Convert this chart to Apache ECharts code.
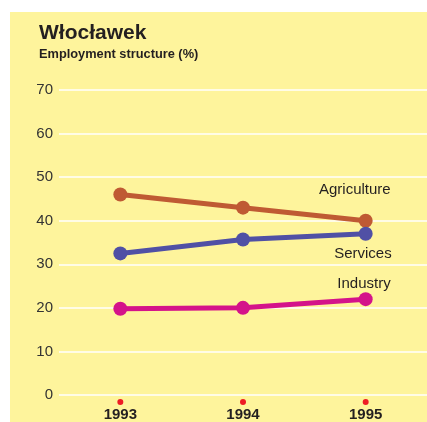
<!DOCTYPE html>
<html>
<head>
<meta charset="utf-8">
<script src="https://cdn.jsdelivr.net/npm/echarts@6/dist/echarts.min.js"></script>
<style>
  html, body { margin: 0; padding: 0; background: #ffffff; width: 427px; height: 422px; overflow: hidden; }
  #chart { position: absolute; left: 10px; top: 12px; width: 417px; height: 410px; }
</style>
</head>
<body>
<div id="chart"></div>
<script>
const years = ['1993', '1994', '1995'];
const agriculture = [46, 43, 40];
const services = [32.5, 35.7, 37];
const industry = [19.8, 20, 22];
const yTicks = [0, 10, 20, 30, 40, 50, 60, 70];

const FONT = '"Liberation Sans", Arial, Helvetica, sans-serif';
const TEXT = '#231f20';

function makeSeries(name, data, color, labelPos) {
  return {
    name: name,
    type: 'line',
    data: data.map(function (v, i) {
      if (i === data.length - 1) {
        return {
          value: v,
          label: {
            show: true,
            formatter: name,
            position: labelPos,
            align: 'right',
            verticalAlign: 'middle',
            fontFamily: FONT,
            fontSize: 15,
            color: TEXT
          }
        };
      }
      return v;
    }),
    symbol: 'circle',
    symbolSize: 14,
    showSymbol: true,
    lineStyle: { color: color, width: 5 },
    itemStyle: { color: color },
    emphasis: { disabled: true },
    animation: false,
    z: 3
  };
}

const chart = echarts.init(document.getElementById('chart'), null, { renderer: 'canvas' });
chart.setOption({
  backgroundColor: '#fef49c',
  animation: false,
  title: {
    text: 'Włocławek',
    subtext: 'Employment structure (%)',
    left: 29,
    top: 9,
    padding: 0,
    itemGap: 2,
    textStyle: { fontFamily: FONT, fontSize: 21, fontWeight: 'bold', color: TEXT, lineHeight: 24 },
    subtextStyle: { fontFamily: FONT, fontSize: 12.8, fontWeight: 'bold', color: TEXT, lineHeight: 14 }
  },
  grid: { left: 49, right: 0, top: 78, bottom: 27, containLabel: false },
  xAxis: {
    type: 'category',
    data: years,
    boundaryGap: true,
    axisLine: { show: false },
    axisTick: { show: false },
    splitLine: { show: false },
    axisLabel: {
      margin: 3,
      formatter: function (v) { return '{dot| }\n{yr|' + v + '}'; },
      rich: {
        dot: { width: 6, height: 6, fontSize: 4, borderRadius: 3, backgroundColor: '#ee1c24', align: 'center', lineHeight: 8 },
        yr: { fontFamily: FONT, fontSize: 15, fontWeight: 'bold', color: TEXT, lineHeight: 17, align: 'center' }
      }
    }
  },
  yAxis: {
    type: 'value',
    min: yTicks[0],
    max: yTicks[yTicks.length - 1],
    interval: 10,
    axisLine: { show: false },
    axisTick: { show: false },
    axisLabel: { fontFamily: FONT, fontSize: 15, color: '#333333', margin: 6 },
    splitLine: { show: true, lineStyle: { color: '#ffffff', width: 1.5 } }
  },
  series: [
    makeSeries('Agriculture', agriculture, '#bf5a33', [32, -24]),
    makeSeries('Services', services, '#5050a5', [33, 27]),
    makeSeries('Industry', industry, '#d4138a', [32, -8])
  ]
});
</script>
</body>
</html>
